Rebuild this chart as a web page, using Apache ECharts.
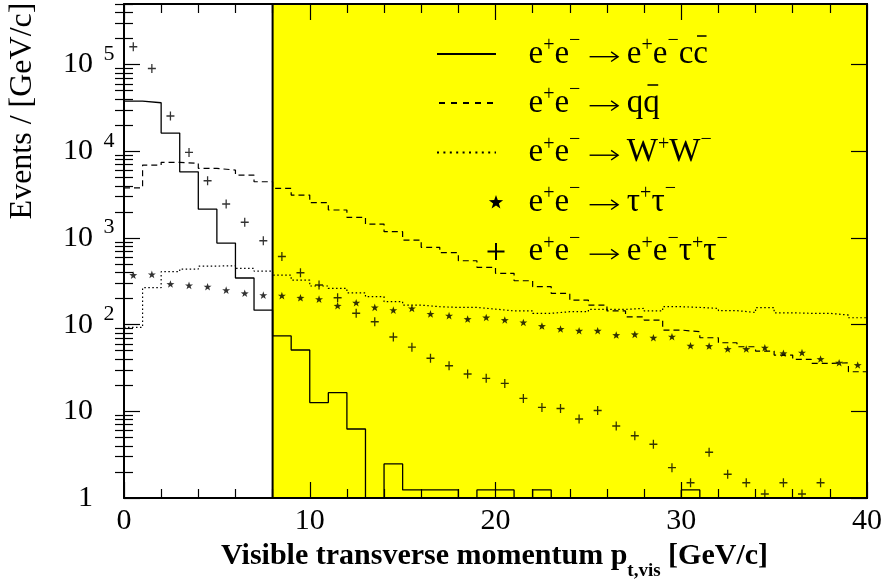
<!DOCTYPE html>
<html>
<head>
<meta charset="utf-8">
<script src="https://cdn.jsdelivr.net/npm/echarts@6/dist/echarts.min.js"></script>
<style>
  html, body { margin: 0; padding: 0; background: #fff; }
  #chart { width: 887px; height: 586px; }
</style>
</head>
<body>
<div id="chart"></div>
<script>
// ---- binning: 1 GeV/c bins from 0 to 40 ----
const binWidth = 1;
const binLow = [0, 1, 2, 3, 4, 5, 6, 7, 8, 9, 10, 11, 12, 13, 14, 15, 16, 17, 18, 19,
                20, 21, 22, 23, 24, 25, 26, 27, 28, 29, 30, 31, 32, 33, 34, 35, 36, 37, 38, 39];

// ---- events per bin for each process (0 = empty bin) ----
const eeCC = [37900, 36300, 16200, 5800, 2150, 873, 345, 147, 74, 51,
              12.6, 16.4, 6.25, 0, 2.47, 1.24, 1.24, 1.24, 0, 1.24,
              1.24, 0, 1.24, 0, 0, 0, 0, 0, 0, 0,
              1.24, 0, 0, 0, 0, 0, 0, 0, 0, 0];
const qqBar = [3790, 6930, 7450, 7250, 6350, 6070, 5320, 4450, 3730, 3125,
               2550, 2100, 1730, 1445, 1180, 946, 779, 676, 546, 458,
               391, 321, 274, 229, 192, 168, 144, 123, 113, 86.6,
               82.8, 70.6, 61.8, 55.6, 49.6, 44.6, 39.8, 35.7, 36.3, 28.6];
const wPairs = [93, 267, 408, 438, 474, 478, 446, 415, 372, 327,
                279, 262, 233, 210, 184, 168, 161, 158, 158, 151,
                144, 144, 135, 141, 141, 150, 150, 154, 144, 161,
                158, 154, 145, 138, 157, 137, 135, 135, 129, 120];
const tauPairs = [373, 380, 294, 284, 274, 250, 230, 219, 216, 204,
                  197, 165, 179, 158, 147, 154, 133, 127, 116, 121,
                  113, 106, 96.3, 89, 85, 85, 75.8, 77.3, 70.6, 72.6,
                  57.1, 56.6, 52.3, 52.3, 54.2, 46.7, 47.5, 40.1, 36.4, 34.2];
const eeTauTau = [160600, 90300, 25500, 9710, 4570, 2460, 1514, 929, 612, 397,
                  286, 204, 135, 108, 72, 55, 40.9, 33.6, 26.9, 24,
                  21, 14.1, 11.1, 10.8, 8.15, 10.2, 6.77, 5.23, 4.16, 2.24,
                  1.5, 3.37, 1.88, 1.5, 1.11, 1.5, 1.11, 1.5, 0, 0];

// ---- selected region and axes ----
const cutRange = [8, 40];
const xTickValues = [0, 10, 20, 30, 40];
const xTickLabels = ['0', '10', '20', '30', '40'];
const yTickValues = [1, 10, 100, 1000, 10000, 100000];
const yTickLabels = ['1', '10', '10^2', '10^3', '10^4', '10^5'];
const yRange = [1, 5e5];

// ---- text ----
const xTitle = ['Visible transverse momentum p', 't,vis', ' [GeV/c]'];
const yTitle = 'Events / [GeV/c]';
// '^' marks a superscript character, '!' a letter with an overbar
const legendLabels = [
  'e^+e^− → e^+e^−c!c',
  'e^+e^− → q!q',
  'e^+e^− → W^+W^−',
  'e^+e^− → τ^+τ^−',
  'e^+e^− → e^+e^−τ^+τ^−'
];

const FONT = '"Liberation Serif", "Times New Roman", serif';
const EMPTY = 1e-3; // empty bins fall below the axis and are clipped

function stepLine(vals) {
  const pts = [];
  vals.forEach((v, i) => {
    const y = v > 0 ? v : EMPTY;
    pts.push([binLow[i], y], [binLow[i] + binWidth, y]);
  });
  return pts;
}
function binCentres(vals) {
  return vals.map((v, i) => [binLow[i] + binWidth / 2, v]).filter(p => p[1] > 0);
}

// five-pointed star and plus outlines
function starPoints(cx, cy, R) {
  const pts = [];
  for (let k = 0; k < 10; k++) {
    const r = k % 2 === 0 ? R : R * 0.4;
    const a = -Math.PI / 2 + k * Math.PI / 5;
    pts.push([cx + r * Math.cos(a), cy + r * Math.sin(a)]);
  }
  return pts;
}
function plusPoints(cx, cy, half, arm) {
  const h = half, a = arm / 2;
  return [[cx - a, cy - h], [cx + a, cy - h], [cx + a, cy - a], [cx + h, cy - a], [cx + h, cy + a],
          [cx + a, cy + a], [cx + a, cy + h], [cx - a, cy + h], [cx - a, cy + a], [cx - h, cy + a],
          [cx - h, cy - a], [cx - a, cy - a]];
}
function toPath(pts) {
  return 'path://M' + pts.map(p => p[0].toFixed(2) + ',' + p[1].toFixed(2)).join('L') + 'Z';
}
const STAR_SYMBOL = toPath(starPoints(50, 50, 50));
const PLUS_SYMBOL = toPath(plusPoints(50, 50, 50, 16));

// y minor ticks at 2..9 of every decade
const yMinorTicks = [];
for (let d = 1; d <= 1e5; d *= 10) {
  for (let m = 2; m <= 9; m++) if (m * d <= yRange[1]) yMinorTicks.push(m * d);
}

// ---- text measuring for overbars and arrows ----
const mctx = document.createElement('canvas').getContext('2d');
function textWidth(str, size, weight) {
  mctx.font = (weight || 'normal') + ' ' + size + 'px ' + FONT;
  return mctx.measureText(str).width;
}

const LEG = { x: 528.5, main: 33, sup: 20, arrow: 30 };
function legendText(label, cx, cy) {
  const tokens = [];
  let buf = '';
  const flush = () => { if (buf) { tokens.push({ t: buf, k: 'm' }); buf = ''; } };
  for (let i = 0; i < label.length; i++) {
    const c = label[i];
    if (c === '^') { flush(); const ch = label[++i]; tokens.push({ t: ch, k: ch === '+' ? 'u' : 'n' }); }
    else if (c === '!') { flush(); tokens.push({ t: label[++i], k: 'o' }); }
    else if (c === '→') { flush(); tokens.push({ t: ' ', k: 'a' }); }
    else buf += c;
  }
  flush();
  let x = cx;
  let rich = '';
  const extra = [];
  tokens.forEach(tk => {
    let w;
    if (tk.k === 'a') {
      w = LEG.arrow;
      const ay = cy + 2.7, x1 = x + 1, x2 = x + w - 0.5;
      extra.push({ type: 'line', z: 30, silent: true,
        shape: { x1: x1, y1: ay, x2: x2, y2: ay }, style: { stroke: '#000', lineWidth: 1.4 } });
      extra.push({ type: 'polyline', z: 30, silent: true,
        shape: { points: [[x2 - 7, ay - 4.8], [x2, ay], [x2 - 7, ay + 4.8]] },
        style: { stroke: '#000', lineWidth: 1.4, fill: null } });
    } else {
      const size = (tk.k === 'u' || tk.k === 'n') ? LEG.sup : LEG.main;
      w = textWidth(tk.t, size);
      if (tk.k === 'o') {
        extra.push({ type: 'line', z: 30, silent: true,
          shape: { x1: x + 0.25 * w, y1: cy - 18, x2: x + 0.9 * w, y2: cy - 18 },
          style: { stroke: '#000', lineWidth: 1.5 } });
      }
    }
    rich += '{' + (tk.k === 'o' ? 'm' : tk.k) + '|' + tk.t + '}';
    x += w;
  });
  const text = {
    type: 'text', z: 30, silent: true, x: cx, y: cy,
    style: {
      text: rich, align: 'left', verticalAlign: 'middle', fill: '#000',
      rich: {
        m: { fontSize: LEG.main, fontFamily: FONT, lineHeight: 36, fill: '#000' },
        a: { fontSize: LEG.main, fontFamily: FONT, width: LEG.arrow, fill: '#000' },
        u: { fontSize: LEG.sup, fontFamily: FONT, height: 20, verticalAlign: 'top', fill: '#000' },
        n: { fontSize: LEG.sup, fontFamily: FONT, height: 10, verticalAlign: 'top', fill: '#000' }
      }
    }
  };
  return [text].concat(extra);
}

const rowY = [54, 103, 152.5, 202, 251.5];
const sampleX = [437, 496];
const legendGraphics = [];
legendGraphics.push({ type: 'line', z: 30, silent: true,
  shape: { x1: sampleX[0], y1: rowY[0], x2: sampleX[1], y2: rowY[0] },
  style: { stroke: '#000', lineWidth: 2.2 } });
legendGraphics.push({ type: 'line', z: 30, silent: true,
  shape: { x1: sampleX[0] + 2, y1: rowY[1], x2: sampleX[1], y2: rowY[1] },
  style: { stroke: '#000', lineWidth: 2, lineDash: [6, 6] } });
legendGraphics.push({ type: 'line', z: 30, silent: true,
  shape: { x1: sampleX[0], y1: rowY[2], x2: sampleX[1], y2: rowY[2] },
  style: { stroke: '#000', lineWidth: 2, lineDash: [2, 4.4] } });
legendGraphics.push({ type: 'polygon', z: 30, silent: true,
  shape: { points: starPoints(sampleX[1], rowY[3] + 0.5, 7.5) },
  style: { fill: '#000' } });
legendGraphics.push({ type: 'polygon', z: 30, silent: true,
  shape: { points: plusPoints(sampleX[1], rowY[4], 8.5, 2) },
  style: { fill: '#000' } });
legendLabels.forEach((lab, i) => { legendGraphics.push(...legendText(lab, LEG.x, rowY[i])); });

// axis titles
legendGraphics.push({
  type: 'text', z: 30, silent: true, x: 221, y: 556.6,
  style: {
    text: '{m|' + xTitle[0] + '}{s|' + xTitle[1] + '}{m|' + xTitle[2] + '}',
    align: 'left', verticalAlign: 'middle', fill: '#000',
    rich: {
      m: { fontSize: 30, fontWeight: 'bold', fontFamily: FONT, lineHeight: 36, fill: '#000' },
      s: { fontSize: 19, fontWeight: 'bold', fontFamily: FONT, height: 6.6, verticalAlign: 'bottom', fill: '#000' }
    }
  }
});
legendGraphics.push({
  type: 'text', z: 30, silent: true, x: 23, y: 111, rotation: Math.PI / 2,
  style: { text: yTitle, align: 'center', verticalAlign: 'middle', fill: '#000',
    fontSize: 32, fontFamily: FONT }
});

// ---- axes ----
const axisLine = { show: true, onZero: false, lineStyle: { color: '#000', width: 2 } };
const tickStyle = { color: '#000', width: 1.2 };
function xAxisOf(pos, labels) {
  return {
    type: 'value', position: pos, min: 0, max: 40, interval: 10, z: 20,
    axisLine: axisLine,
    axisTick: { show: true, inside: true, length: 16, lineStyle: tickStyle },
    minorTick: { show: true, splitNumber: 5, length: 9, lineStyle: tickStyle },
    splitLine: { show: false }, minorSplitLine: { show: false },
    axisLabel: labels ? {
      show: true, margin: 8, color: '#000', fontFamily: FONT, fontSize: 30,
      formatter: v => { const i = xTickValues.indexOf(v); return i >= 0 ? xTickLabels[i] : ''; }
    } : { show: false }
  };
}
function yAxisOf(pos, minor, labels) {
  return {
    type: 'log', logBase: 10, position: pos, min: yRange[0], max: yRange[1], z: 20,
    axisLine: minor ? { show: false } : axisLine,
    axisTick: { show: true, inside: true, length: minor ? 9 : 16, lineStyle: tickStyle,
      customValues: minor ? yMinorTicks : yTickValues },
    splitLine: { show: false },
    axisLabel: labels ? {
      show: true, margin: 8, customValues: yTickValues,
      formatter: v => {
        const i = yTickValues.findIndex(t => Math.abs(t - v) / t < 1e-6);
        if (i < 0) return '';
        const parts = yTickLabels[i].split('^');
        return parts.length > 1 ? '{b|' + parts[0] + '}{g|}{e|' + parts[1] + '}' : '{b|' + parts[0] + '}{p|}';
      },
      rich: {
        b: { fontSize: 30, fontFamily: FONT, color: '#000', lineHeight: 36 },
        g: { width: 9 },
        e: { fontSize: 22, fontFamily: FONT, color: '#000', height: 15, verticalAlign: 'top', width: 14, align: 'left' },
        p: { width: 23 }
      }
    } : { show: false }
  };
}

const lineBase = { type: 'line', xAxisIndex: 0, yAxisIndex: 0, showSymbol: false, symbol: 'none',
  clip: true, z: 3, silent: true, animation: false };

const option = {
  animation: false,
  backgroundColor: '#fff',
  grid: { left: 124, right: 20, top: 4, bottom: 88, containLabel: false, outerBoundsMode: 'none' },
  xAxis: [xAxisOf('bottom', true), xAxisOf('top', false)],
  yAxis: [yAxisOf('left', false, true), yAxisOf('left', true, false),
          yAxisOf('right', false, false), yAxisOf('right', true, false)],
  graphic: legendGraphics,
  series: [
    { // selected region
      type: 'line', data: [], z: 1, silent: true, xAxisIndex: 0, yAxisIndex: 0,
      markArea: { silent: true,
        itemStyle: { color: '#ffff00', borderColor: '#000', borderWidth: 2 },
        data: [[{ xAxis: cutRange[0] }, { xAxis: cutRange[1] }]] }
    },
    Object.assign({}, lineBase, { name: 'eecc', data: stepLine(eeCC),
      lineStyle: { color: '#000', width: 1.3 } }),
    Object.assign({}, lineBase, { name: 'qq', data: stepLine(qqBar),
      lineStyle: { color: '#000', width: 1.2, type: [6, 4] } }),
    Object.assign({}, lineBase, { name: 'WW', data: stepLine(wPairs),
      lineStyle: { color: '#000', width: 1.2, type: [1.5, 2.5] } }),
    { type: 'scatter', name: 'tautau', data: binCentres(tauPairs), xAxisIndex: 0, yAxisIndex: 0,
      symbol: STAR_SYMBOL, symbolSize: 8, symbolKeepAspect: true, z: 4, silent: true,
      itemStyle: { color: '#000' } },
    { type: 'scatter', name: 'eetautau', data: binCentres(eeTauTau), xAxisIndex: 0, yAxisIndex: 0,
      symbol: PLUS_SYMBOL, symbolSize: [8, 9], z: 4, silent: true, clip: true,
      itemStyle: { color: '#000' } }
  ]
};

const chart = echarts.init(document.getElementById('chart'), null, { renderer: 'canvas' });
chart.setOption(option);
</script>
</body>
</html>
